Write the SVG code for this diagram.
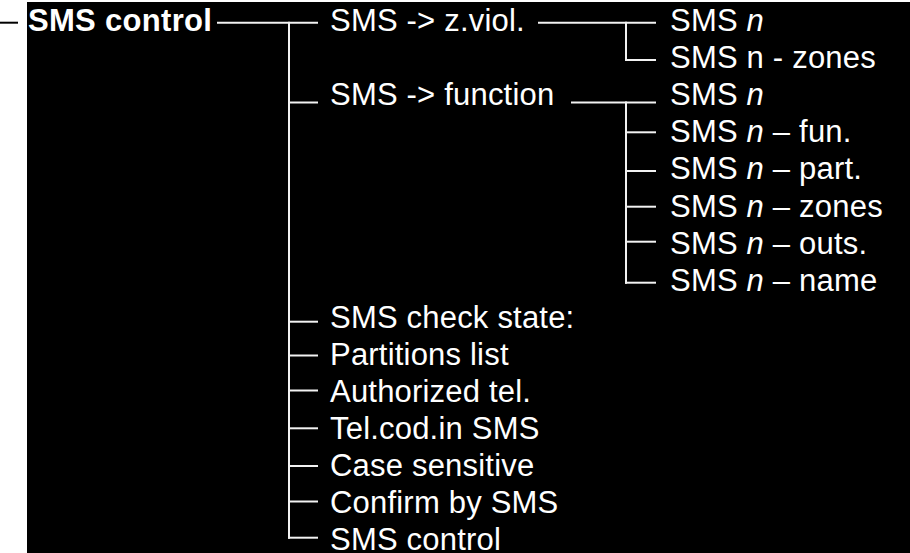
<svg xmlns="http://www.w3.org/2000/svg" width="910" height="553" viewBox="0 0 910 553">
  <style>
    text { font-family: "Liberation Sans", Arial, sans-serif; font-size: 31px; fill: #ffffff; letter-spacing: 0.2px; }
    .root { font-weight: bold; letter-spacing: 0.3px; }
    .conn line { stroke: #f2f2f2; stroke-width: 2; }
  </style>
  <rect x="0" y="0" width="910" height="553" fill="#ffffff"/>
  <rect x="27" y="2" width="883" height="551" fill="#000000"/>

  <!-- tree connectors -->
  <g id="connectors" class="conn">
    <line x1="0" y1="22.7" x2="18" y2="22.7" style="stroke:#000000"/>
    <line x1="217" y1="22.7" x2="318" y2="22.7"/>
    <line x1="289" y1="21.7" x2="289" y2="538.7"/>
    <line x1="288" y1="102.5" x2="318" y2="102.5"/>
    <line x1="288" y1="321.7" x2="318" y2="321.7"/>
    <line x1="288" y1="355.5" x2="318" y2="355.5"/>
    <line x1="288" y1="390.5" x2="318" y2="390.5"/>
    <line x1="288" y1="428.3" x2="318" y2="428.3"/>
    <line x1="288" y1="466" x2="318" y2="466"/>
    <line x1="288" y1="501.5" x2="318" y2="501.5"/>
    <line x1="288" y1="537.7" x2="318" y2="537.7"/>

    <line x1="538" y1="22.7" x2="656" y2="22.7"/>
    <line x1="626" y1="21.7" x2="626" y2="61"/>
    <line x1="625" y1="60" x2="656" y2="60"/>

    <line x1="571" y1="102.5" x2="656" y2="102.5"/>
    <line x1="626" y1="101.5" x2="626" y2="283.7"/>
    <line x1="625" y1="132.3" x2="656" y2="132.3"/>
    <line x1="625" y1="171" x2="656" y2="171"/>
    <line x1="625" y1="206.7" x2="656" y2="206.7"/>
    <line x1="625" y1="241.7" x2="656" y2="241.7"/>
    <line x1="625" y1="282.7" x2="656" y2="282.7"/>
  </g>

  <g id="root"><text class="root" x="28" y="31">SMS control</text></g>

  <g id="z-viol"><text x="330" y="31">SMS -&gt; z.viol.</text></g>
  <g id="zv-n"><text x="670" y="31">SMS <tspan font-style="italic">n</tspan></text></g>
  <g id="zv-zones"><text x="670" y="68">SMS n - zones</text></g>

  <g id="function"><text x="330" y="105">SMS -&gt; function</text></g>
  <g id="fn-n"><text x="670" y="105">SMS <tspan font-style="italic">n</tspan></text></g>
  <g id="fn-fun"><text x="670" y="142.3">SMS <tspan font-style="italic">n</tspan> – fun.</text></g>
  <g id="fn-part"><text x="670" y="179.4">SMS <tspan font-style="italic">n</tspan> – part.</text></g>
  <g id="fn-zones"><text x="670" y="216.5">SMS <tspan font-style="italic">n</tspan> – zones</text></g>
  <g id="fn-outs"><text x="670" y="253.6">SMS <tspan font-style="italic">n</tspan> – outs.</text></g>
  <g id="fn-name"><text x="670" y="290.7">SMS <tspan font-style="italic">n</tspan> – name</text></g>

  <g id="check-state"><text x="330" y="327.8">SMS check state:</text></g>
  <g id="partitions"><text x="330" y="364.9">Partitions list</text></g>
  <g id="authorized"><text x="330" y="402">Authorized tel.</text></g>
  <g id="telcod"><text x="330" y="439">Tel.cod.in SMS</text></g>
  <g id="case"><text x="330" y="476">Case sensitive</text></g>
  <g id="confirm"><text x="330" y="513.2">Confirm by SMS</text></g>
  <g id="sms-control"><text x="330" y="549.8">SMS control</text></g>
</svg>
